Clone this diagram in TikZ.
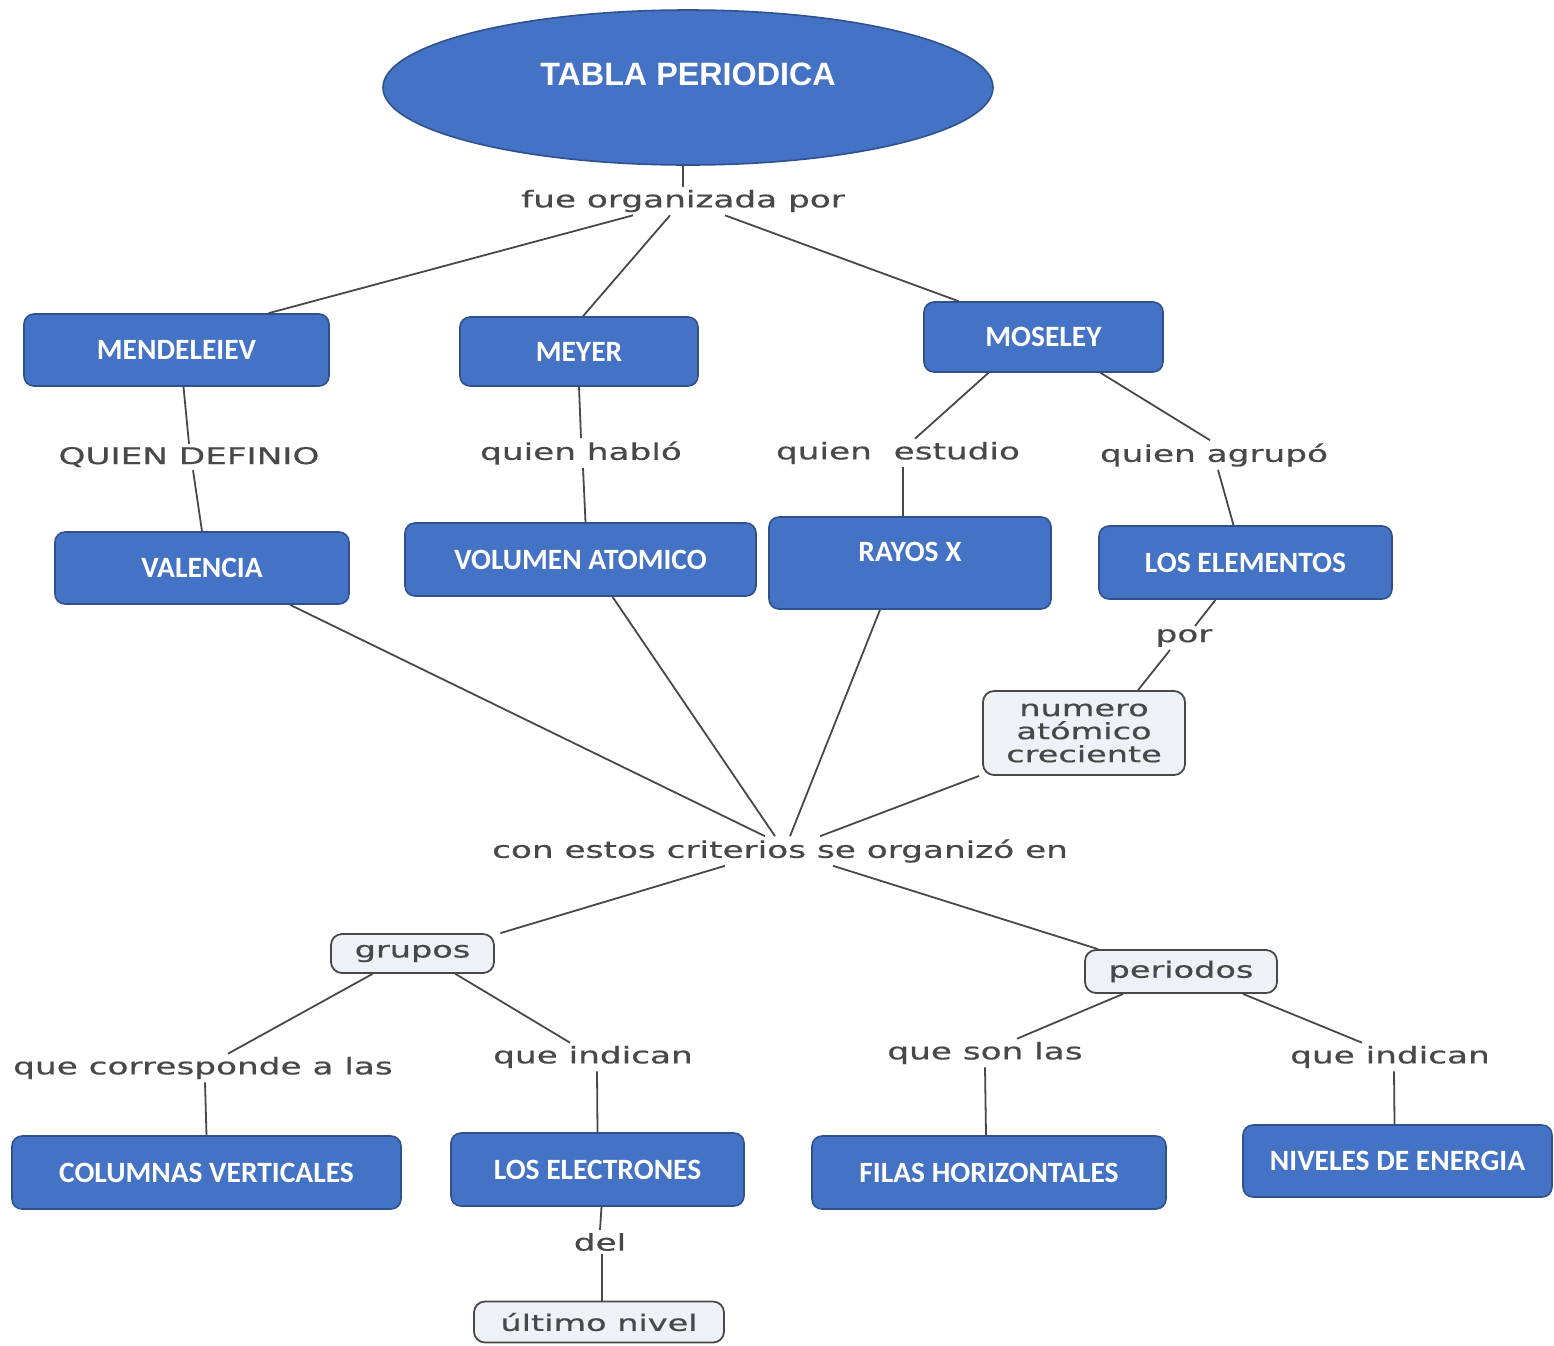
\documentclass[tikz,border=0pt]{standalone}
\usepackage{fontspec}
\usetikzlibrary{shapes.geometric}
\newfontfamily\boxfont{Carlito}
\newfontfamily\titlefont{Liberation Sans}
\newfontfamily\lblfont[FakeStretch=1.49,FakeBold=0.6]{DejaVu Sans}
\definecolor{boxblue}{HTML}{4472C4}
\definecolor{boxedge}{HTML}{2F528F}
\definecolor{lnk}{HTML}{484848}
\definecolor{lightfill}{HTML}{EEF2F6}
\tikzset{
  bluebox/.style={rectangle, rounded corners=10pt, fill=boxblue, draw=boxedge, line width=1.6pt,
    text=white, font=\boxfont\bfseries\fontsize{29.5}{31}\selectfont, inner sep=0pt},
  titlebox/.style={ellipse, fill=boxblue, draw=boxedge, line width=1.6pt, inner sep=0pt,
    text=white, font=\titlefont\bfseries\fontsize{32.3}{34}\selectfont},
  linklabel/.style={font=\lblfont\fontsize{23}{23}\selectfont, text=lnk, inner sep=3pt},
  concept/.style={rectangle, rounded corners=11pt, fill=lightfill, draw=lnk, line width=1.8pt,
    text=lnk, font=\lblfont\fontsize{22.5}{23}\selectfont, inner sep=0pt, align=center},
  conn/.style={draw=lnk, line width=1.8pt},
}
\begin{document}
\begin{tikzpicture}[x=1pt,y=-1pt]
\useasboundingbox (0,0) rectangle (1554,1345);
% title
\node[titlebox, minimum width=610pt, minimum height=155pt] (title) at (688,87.5)
  {\raisebox{13pt}[\height][\depth]{TABLA PERIODICA}};
% blue boxes
\node[bluebox, minimum width=305pt, minimum height=72pt] (mend) at (176.5,350) {MENDELEIEV};
\node[bluebox, minimum width=238pt, minimum height=69pt] (meyer) at (579,351.5) {MEYER};
\node[bluebox, minimum width=239pt, minimum height=70pt] (mos) at (1043.5,337) {MOSELEY};
\node[bluebox, minimum width=294pt, minimum height=72pt] (valencia) at (202,568) {VALENCIA};
\node[bluebox, minimum width=351pt, minimum height=73pt] (vol) at (580.5,559.5) {VOLUMEN ATOMICO};
\node[bluebox, minimum width=282pt, minimum height=92pt] (rayos) at (910,563)
  {\raisebox{11pt}[\height][\depth]{RAYOS X}};
\node[bluebox, minimum width=293pt, minimum height=73pt] (elem) at (1245.5,562.5) {LOS ELEMENTOS};
\node[bluebox, minimum width=389pt, minimum height=73pt] (columnas) at (206.5,1172.5) {COLUMNAS VERTICALES};
\node[bluebox, minimum width=293pt, minimum height=73pt] (electrones) at (597.5,1169.5) {LOS ELECTRONES};
\node[bluebox, minimum width=354pt, minimum height=73pt] (filas) at (989,1172.5) {FILAS HORIZONTALES};
\node[bluebox, minimum width=309pt, minimum height=72pt] (niveles) at (1397.5,1161) {NIVELES DE ENERGIA};
% concept boxes
\node[concept, minimum width=202pt, minimum height=84pt] (num) at (1084,733)
  {numero\\at\'omico\\creciente};
\node[concept, minimum width=163pt, minimum height=39pt] (grupos) at (412.5,953.5) {grupos};
\node[concept, minimum width=192pt, minimum height=43pt] (periodos) at (1181,971.5) {periodos};
\node[concept, minimum width=250pt, minimum height=41pt] (ultimo) at (599,1322) {\'ultimo nivel};
% link labels
\node[linklabel] (fue) at (683,201) {fue organizada por};
\node[linklabel] (qdef) at (189,457) {QUIEN DEFINIO};
\node[linklabel] (hablo) at (581,453) {quien habl\'o};
\node[linklabel] (estudio) at (898,453) {quien\ \ estudio};
\node[linklabel] (agrupo) at (1214,455) {quien agrup\'o};
\node[linklabel] (por) at (1184,638) {por};
\node[linklabel] (crit) at (780,851) {con estos criterios se organiz\'o en};
\node[linklabel] (qcorr) at (203,1068) {que corresponde a las};
\node[linklabel] (qind1) at (593,1057) {que indican};
\node[linklabel] (qson) at (985,1053) {que son las};
\node[linklabel] (qind2) at (1390,1057) {que indican};
\node[linklabel] (del) at (600,1242) {del};
% connectors
\draw[conn] ([xshift=-5pt]title.south) -- (fue.north);
\draw[conn] ([xshift=-50pt]fue.south) -- ([xshift=92pt]mend.north);
\draw[conn] ([xshift=-13pt]fue.south) -- ([xshift=4pt]meyer.north);
\draw[conn] ([xshift=42pt]fue.south) -- ([xshift=-85pt]mos.north);
\draw[conn] ([xshift=7pt]mend.south) -- (qdef.north);
\draw[conn] ([xshift=4pt]qdef.south) -- (valencia.north);
\draw[conn] (meyer.south) -- (hablo.north);
\draw[conn] ([xshift=2pt]hablo.south) -- ([xshift=5pt]vol.north);
\draw[conn] ([xshift=-55pt]mos.south) -- ([xshift=17pt]estudio.north);
\draw[conn] ([xshift=5pt]estudio.south) -- ([xshift=-7pt]rayos.north);
\draw[conn] ([xshift=57pt]mos.south) -- ([xshift=-4pt]agrupo.north);
\draw[conn] ([xshift=4pt]agrupo.south) -- ([xshift=-12pt]elem.north);
\draw[conn] ([xshift=-30pt]elem.south) -- ([xshift=11pt]por.north);
\draw[conn] ([xshift=-14pt]por.south) -- ([xshift=54pt]num.north);
\draw[conn] ([xshift=88pt]valencia.south) -- ([xshift=-15pt]crit.north);
\draw[conn] ([xshift=32pt]vol.south) -- ([xshift=-5pt]crit.north);
\draw[conn] ([xshift=-30pt]rayos.south) -- ([xshift=10pt]crit.north);
\draw[conn] ([xshift=-3pt]num.south west) -- ([xshift=40pt]crit.north);
\draw[conn] ([xshift=-55pt]crit.south) -- ([xshift=88pt]grupos.north);
\draw[conn] ([xshift=53pt]crit.south) -- ([xshift=-83pt]periodos.north);
\draw[conn] ([xshift=-40pt]grupos.south) -- ([xshift=25pt]qcorr.north);
\draw[conn] ([xshift=2pt]qcorr.south) -- (columnas.north);
\draw[conn] ([xshift=43pt]grupos.south) -- ([xshift=-23pt]qind1.north);
\draw[conn] ([xshift=4pt]qind1.south) -- (electrones.north);
\draw[conn] ([xshift=-58pt]periodos.south) -- ([xshift=32pt]qson.north);
\draw[conn] (qson.south) -- ([xshift=-3pt]filas.north);
\draw[conn] ([xshift=62pt]periodos.south) -- ([xshift=-28pt]qind2.north);
\draw[conn] ([xshift=4pt]qind2.south) -- ([xshift=-3pt]niveles.north);
\draw[conn] ([xshift=4pt]electrones.south) -- (del.north);
\draw[conn] ([xshift=2pt]del.south) -- ([xshift=3pt]ultimo.north);
\end{tikzpicture}
\end{document}
